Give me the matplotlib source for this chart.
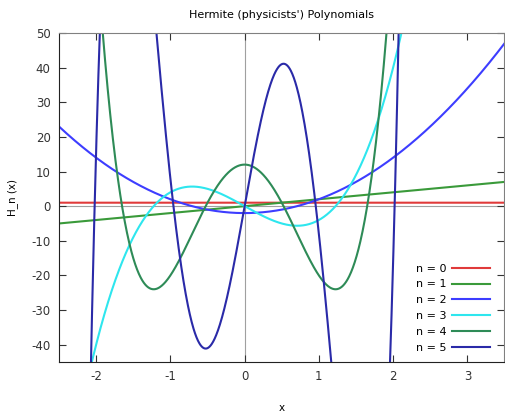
import numpy as np
import matplotlib
matplotlib.use("Agg")
import matplotlib.pyplot as plt

# Hermite (physicists') polynomial coefficients, highest degree first
coef_h0 = [1]
coef_h1 = [2, 0]
coef_h2 = [4, 0, -2]
coef_h3 = [8, 0, -12, 0]
coef_h4 = [16, 0, -48, 0, 12]
coef_h5 = [32, 0, -160, 0, 120, 0]
labels = ["n = 0", "n = 1", "n = 2", "n = 3", "n = 4", "n = 5"]
colors = ["#e03a3a", "#3a9a3a", "#3d3dff", "#2ee6ee", "#2e8b57", "#2a2aa8"]
x_min, x_max = -2.5, 3.5
y_min, y_max = -45, 50
xticks = [-2, -1, 0, 1, 2, 3]
yticks = [-40, -30, -20, -10, 0, 10, 20, 30, 40, 50]

plt.rcParams['font.family'] = ['DejaVu Sans']
plt.rcParams['axes.unicode_minus'] = False
fig = plt.figure(figsize=(5.05, 4.12), dpi=100)
ax = fig.add_axes([59/505, 50/412, 1 - 59/505 - 0.001, (362-33)/412])

x = np.linspace(x_min, x_max, 1200)
ax.axhline(0, color="#a0a0a0", lw=0.8, zorder=1)
ax.axvline(0, color="#a0a0a0", lw=0.8, zorder=1)
for c, lab, col in zip([coef_h0, coef_h1, coef_h2, coef_h3, coef_h4, coef_h5], labels, colors):
    ax.plot(x, np.polyval(c, x), color=col, lw=1.5, label=lab, zorder=2)

ax.set_xlim(x_min, x_max)
ax.set_ylim(y_min, y_max)
ax.set_xticks(xticks)
ax.set_yticks(yticks)
ax.tick_params(direction="in", top=True, right=True, length=5, width=0.8,
               labelsize=8.5, colors="#333333", pad=6)
for side in ["top", "right"]:
    ax.spines[side].set_color("#808080")
for side in ["left", "bottom"]:
    ax.spines[side].set_color("#222222")
ax.set_title("Hermite (physicists') Polynomials", fontsize=8, pad=11)
ax.set_xlabel("x", fontsize=7.5, labelpad=14)
ax.set_ylabel("H_n (x)", fontsize=7.5, labelpad=10)
leg = ax.legend(loc="lower right", markerfirst=False, frameon=False, fontsize=8,
                handlelength=3.4, handletextpad=0.5, labelspacing=0.52,
                borderaxespad=0.3, bbox_to_anchor=(0.985, 0.005))
fig.savefig("out.png", dpi=100)
